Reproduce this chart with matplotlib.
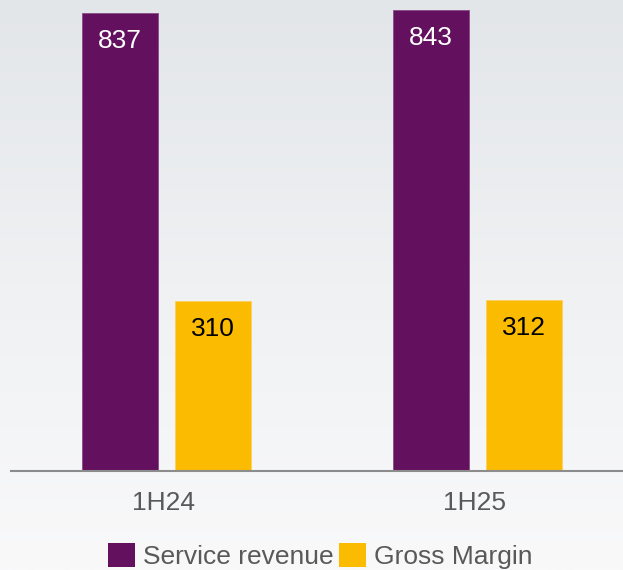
import numpy as np
import matplotlib
matplotlib.use("Agg")
import matplotlib.pyplot as plt
from matplotlib.colors import LinearSegmentedColormap
from matplotlib.patches import Patch

# data
periods = ["1H24", "1H25"]
service_revenue = [837, 843]
gross_margin = [310, 312]
series_names = ["Service revenue", "Gross Margin"]

purple = "#63105f"
yellow = "#fbbb00"
grey_txt = "#595959"

plt.rcParams["font.family"] = ["Liberation Sans", "DejaVu Sans"]

fig = plt.figure(figsize=(6.23, 5.70), dpi=100)

# background gradient (light grey top -> almost white bottom)
bg = fig.add_axes([0, 0, 1, 1], zorder=-10)
cmap = LinearSegmentedColormap.from_list("bg", ["#f9f9fa", "#eff1f3", "#e3e6e9"])
bg.imshow(np.linspace(0, 1, 256).reshape(-1, 1), aspect="auto", cmap=cmap,
          origin="lower", extent=[0, 1, 0, 1])
bg.axis("off")

ax = fig.add_axes([11 / 623, 1 - 470.5 / 570, 612 / 623, 470.5 / 570])
ax.patch.set_alpha(0)

x = np.arange(len(periods))
w = 0.2446
off = 0.1497

b1 = ax.bar(x - off, service_revenue, w, color=purple, edgecolor="#8a4a87", linewidth=0.6)
b2 = ax.bar(x + off, gross_margin, w, color=yellow, edgecolor="#fcd060", linewidth=0.6)

# value labels inside the bars, near the top
for rect, v in zip(b1, service_revenue):
    ax.annotate(str(v), (rect.get_x() + rect.get_width() / 2, v), xytext=(0, -20),
                textcoords="offset points", ha="center", va="center",
                fontsize=19, color="white")
for rect, v in zip(b2, gross_margin):
    ax.annotate(str(v), (rect.get_x() + rect.get_width() / 2, v), xytext=(0, -20),
                textcoords="offset points", ha="center", va="center",
                fontsize=19, color="black")

ax.set_ylim(0, 861.4)
ax.set_xlim(-0.5015, 1.4683)
ax.set_xticks(x - 0.01)
ax.set_xticklabels(periods, fontsize=19, color=grey_txt)
ax.tick_params(axis="x", length=0, pad=15)
ax.set_yticks([])
for s in ["top", "right", "left"]:
    ax.spines[s].set_visible(False)
ax.spines["bottom"].set_color("#8c8c8c")
ax.spines["bottom"].set_linewidth(1.5)

handles = [Patch(facecolor=purple), Patch(facecolor=yellow)]
fig.legend(handles, series_names, loc="center", bbox_to_anchor=(0.514, 0.024),
           ncol=2, frameon=False, fontsize=19, labelcolor=grey_txt,
           handlelength=1.02, handleheight=1.02, handletextpad=0.31,
           columnspacing=0.19, borderpad=0, borderaxespad=0)

fig.savefig("out.png", dpi=100)
